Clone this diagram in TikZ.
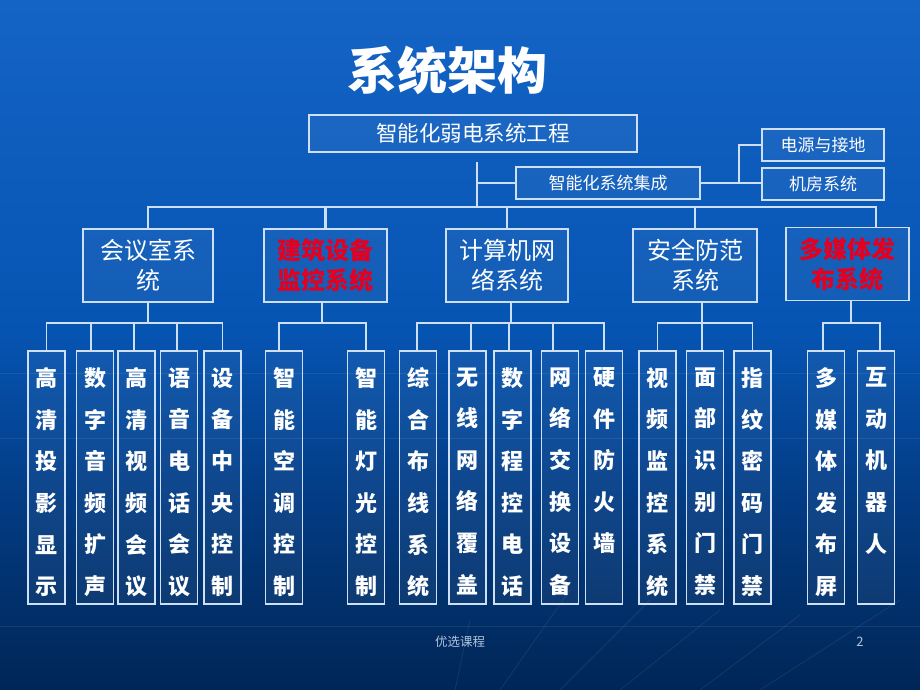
\documentclass[tikz,border=0pt]{standalone}
\usepackage{fontspec}
\setmainfont{Noto Sans CJK SC}
\definecolor{bgtop}{RGB}{20,100,198}
\definecolor{bgmid}{RGB}{6,84,178}
\definecolor{bglow}{RGB}{3,60,132}
\definecolor{bgbot}{RGB}{0,38,86}
\definecolor{ln}{RGB}{205,224,247}
\definecolor{redt}{RGB}{228,0,30}
\definecolor{foot}{RGB}{175,195,220}
\pgfdeclareverticalshading{bgsh}{100bp}{color(0bp)=(bgbot); color(25bp)=(bgbot); color(39bp)=(bglow); color(51bp)=(bgmid); color(75bp)=(bgtop); color(100bp)=(bgtop)}
\tikzset{
  x=1pt, y=-1pt,
  box/.style={draw=ln, line width=1.2pt, inner sep=0pt, fill=white, fill opacity=0.05, text opacity=1, text=white},
  topbox/.style={box, minimum height=32pt, font=\fontsize{17}{20}\selectfont},
  grpbox/.style={box, minimum width=123pt, minimum height=73pt, align=center, font=\fontsize{24}{30}\selectfont},
  redtxt/.style={text=redt, font=\fontsize{24}{30}\selectfont\bfseries},
  leafbox/.style={box, minimum width=37pt, minimum height=253pt},
  leaftext/.style={inner sep=0pt, align=center, text=white, font=\fontsize{22}{41.6}\selectfont\bfseries},
  bus/.style={draw=ln, line width=2.6pt},
  link/.style={draw=ln, line width=1.6pt},
  sub/.style={draw=ln, line width=1.4pt},
  faint/.style={draw=white, line width=0.8pt, opacity=0.08}
}
\begin{document}
\begin{tikzpicture}
\useasboundingbox (0,0) rectangle (920,690);
\shade[shading=bgsh] (0,0) rectangle (920,690);
% faint background texture
\draw[faint] (0,373) -- (920,373);
\draw[faint] (0,438) -- (920,438);
\draw[faint] (0,626) -- (920,626);
\draw[faint] (455,690) -- (470,620);
\draw[faint] (500,690) -- (570,590);
\draw[faint] (560,690) -- (650,600);
\draw[faint] (620,690) -- (720,610);
\draw[faint] (700,690) -- (800,615);
\draw[faint] (760,690) -- (900,600);

% title
\node[text=white, font=\fontsize{50}{56}\selectfont\bfseries] (title) at (447,70) {系统架构};

% top level
\node[box, minimum width=328pt, minimum height=37pt, font=\fontsize{21.5}{24}\selectfont] (top) at (473,133.5) {智能化弱电系统工程};
\node[topbox, minimum width=184pt] (sys) at (608,183) {智能化系统集成};
\node[topbox, minimum width=122pt] (p1) at (823,145) {电源与接地};
\node[topbox, minimum width=122pt] (p2) at (823,184) {机房系统};

% level 2
\node[grpbox, minimum width=130pt] (g1) at (148,265.5) {会议室系\\统};
\node[grpbox, redtxt] (g2) at (325.5,265.5) {建筑设备\\监控系统};
\node[grpbox, minimum width=122pt] (g3) at (507,265.5) {计算机网\\络系统};
\node[grpbox, minimum width=124pt] (g4) at (695,265.5) {安全防范\\系统};
\node[grpbox, redtxt] (g5) at (847.5,264) {多媒体发\\布系统};

% coordinates
\coordinate (t0) at (477,162);
\coordinate (b5) at (876,207);
\coordinate (pv) at (739,183);
\coordinate (y3) at (0,323);

% top connectors
\draw[bus] (t0) -- (t0 |- b5);
\draw[link] (t0 |- sys.west) -- (sys.west);
\draw[link] (sys.east) -- (pv) -- (pv -| p2.west);
\draw[link] (pv) |- (p1.west);
\draw[bus] (g1.north) |- (b5) -- (b5 |- g5.north);
\draw[bus] (g2.north) -- (g2.north |- b5);
\draw[bus] (g3.north) -- (g3.north |- b5);
\draw[bus] (g4.north) -- (g4.north |- b5);

% leaves
\foreach \n/\x/\t in {
  l11/46.5/{高\\清\\投\\影\\显\\示},
  l12/95/{数\\字\\音\\频\\扩\\声},
  l13/136.5/{高\\清\\视\\频\\会\\议},
  l14/179/{语\\音\\电\\话\\会\\议},
  l15/222.5/{设\\备\\中\\央\\控\\制},
  l21/284/{智\\能\\空\\调\\控\\制},
  l22/366/{智\\能\\灯\\光\\控\\制},
  l31/418/{综\\合\\布\\线\\系\\统},
  l32/467.5/{无\\线\\网\\络\\覆\\盖},
  l33/512.5/{数\\字\\程\\控\\电\\话},
  l34/560/{网\\络\\交\\换\\设\\备},
  l35/604/{硬\\件\\防\\火\\墙},
  l41/657.5/{视\\频\\监\\控\\系\\统},
  l42/705/{面\\部\\识\\别\\门\\禁},
  l43/752.5/{指\\纹\\密\\码\\门\\禁},
  l51/826/{多\\媒\\体\\发\\布\\屏},
  l52/876/{互\\动\\机\\器\\人}}{
  \node[leafbox] (\n) at (\x,477.5) {};
  \node[leaftext, anchor=north] (\n t) at ([yshift=-17pt]\n.north) {\t};
}

% group 1 sub-bus
\draw[sub] (g1.south) -- (g1.south |- y3);
\draw[sub] (l11.north) |- (y3 -| l15.north) -- (l15.north);
\draw[sub] ([xshift=-4pt]l12.north) -- ([xshift=-4pt]l12.north |- y3);
\draw[sub] ([xshift=-2.5pt]l13.north) -- ([xshift=-2.5pt]l13.north |- y3);
\draw[sub] ([xshift=-2pt]l14.north) -- ([xshift=-2pt]l14.north |- y3);
% group 2
\draw[sub] ([xshift=-3.5pt]g2.south) -- ([xshift=-3.5pt]g2.south |- y3);
\draw[sub] ([xshift=-5pt]l21.north) |- (y3 -| l22.north) -- (l22.north);
% group 3
\draw[sub] ([xshift=4pt]g3.south) -- ([xshift=4pt]g3.south |- y3);
\draw[sub] ([xshift=-1pt]l31.north) |- (y3 -| l35.north) -- (l35.north);
\draw[sub] ([xshift=3.5pt]l32.north) -- ([xshift=3.5pt]l32.north |- y3);
\draw[sub] ([xshift=-3.5pt]l33.north) -- ([xshift=-3.5pt]l33.north |- y3);
\draw[sub] ([xshift=-7pt]l34.north) -- ([xshift=-7pt]l34.north |- y3);
% group 4
\draw[sub] ([xshift=7pt]g4.south) -- ([xshift=7pt]g4.south |- y3);
\draw[sub] (l41.north) |- (y3 -| l43.north) -- (l43.north);
\draw[sub] ([xshift=-3pt]l42.north) -- ([xshift=-3pt]l42.north |- y3);
% group 5
\draw[sub] ([xshift=3.5pt]g5.south) -- ([xshift=3.5pt]g5.south |- y3);
\draw[sub] ([xshift=-3pt]l51.north) |- ([xshift=4pt]y3 -| l52.north) -- ([xshift=4pt]l52.north);

% footer
\node[text=foot, font=\fontsize{12.5}{14}\selectfont] (ft) at (460,642) {优选课程};
\node[text=foot, font=\fontsize{13}{14}\selectfont] (pg) at (860,642) {2};
\end{tikzpicture}
\end{document}
